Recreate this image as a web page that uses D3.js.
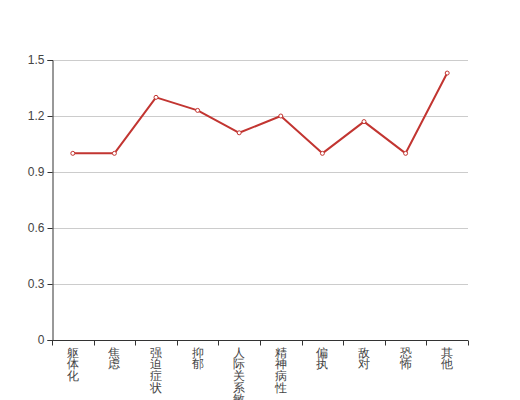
<!DOCTYPE html>
<html><head><meta charset="utf-8">
<script src="https://cdn.jsdelivr.net/npm/d3@7"></script>
<style>body{margin:0;background:#fff}svg{display:block}</style>
</head><body><svg id="c" width="520" height="400"></svg>
<script>
const categories = ["躯体化","焦虑","强迫症状","抑郁","人际关系敏感","精神病性","偏执","敌对","恐怖","其他"];
const values = [1.0,1.0,1.3,1.23,1.11,1.2,1.0,1.17,1.0,1.43];
const yTicks = [0,0.3,0.6,0.9,1.2,1.5];

const svg = d3.select("#c");
const L=52,R=468,T=60,B=340;
const x = d3.scaleBand().domain(categories).range([L,R]);
const y = d3.scaleLinear().domain([0,1.5]).range([B,T]);
const font = "sans-serif";
const txtColor = "#444";

// grid
svg.append("g").selectAll("line").data(yTicks.filter(d=>d>0)).join("line")
  .attr("x1",L).attr("x2",R).attr("y1",d=>Math.round(y(d))+0.5).attr("y2",d=>Math.round(y(d))+0.5)
  .attr("stroke","#ccc").attr("stroke-width",1);

// y axis
const ya = svg.append("g").attr("transform",`translate(${L+0.5},0)`)
  .call(d3.axisLeft(y).tickValues(yTicks).tickSize(5).tickPadding(3).tickFormat(d=>String(+d.toFixed(1))));
ya.select(".domain").attr("stroke","#333");
ya.selectAll(".tick line").attr("stroke","#333");
ya.selectAll(".tick text").attr("fill",txtColor).attr("font-size",12).attr("font-family",font);

// x axis
const xg = svg.append("g").attr("transform",`translate(0,${B+0.5})`);
xg.append("line").attr("x1",L).attr("x2",R).attr("stroke","#333");
const bounds = categories.map(c=>x(c)).concat([R]);
xg.selectAll("line.t").data(bounds).join("line").attr("class","t")
  .attr("x1",d=>Math.round(d)+0.5).attr("x2",d=>Math.round(d)+0.5).attr("y1",0).attr("y2",5).attr("stroke","#333");
const chars = [];
categories.forEach(c=>[...c].forEach((ch,i)=>chars.push({c,ch,i})));
xg.selectAll("text").data(chars).join("text")
  .attr("font-size",11.5).attr("font-family",font).attr("fill",txtColor).attr("text-anchor","middle")
  .attr("x",d=>x(d.c)+x.bandwidth()/2).attr("y",d=>16+d.i*11.7).text(d=>d.ch);

// line
const line = d3.line().x((d,i)=>x(categories[i])+x.bandwidth()/2).y(d=>y(d));
svg.append("path").datum(values).attr("d",line).attr("fill","none")
  .attr("stroke","#c23531").attr("stroke-width",2).attr("stroke-linejoin","round");
svg.append("g").selectAll("circle").data(values).join("circle")
  .attr("cx",(d,i)=>x(categories[i])+x.bandwidth()/2).attr("cy",d=>y(d)).attr("r",2)
  .attr("fill","#fff").attr("stroke","#c23531").attr("stroke-width",1);
</script></body></html>
